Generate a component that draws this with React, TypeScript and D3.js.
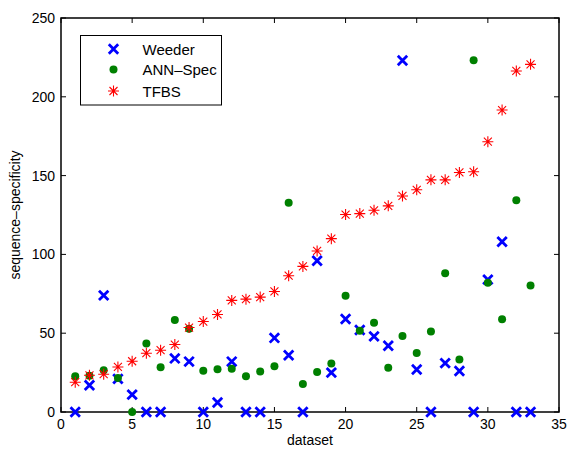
import React from "react";
import * as d3 from "d3";

const datasets = d3.range(1, 34);
const weeder = [0, 17, 74, 21, 11, 0, 0, 34, 32, 0, 6, 32, 0, 0, 47, 36, 0, 96, 25, 59, 52, 48, 42, 223, 27, 0, 31, 26, 0, 84, 108, 0, 0];
const annSpec = [22.7, 23, 26.5, 21.6, 0, 43.5, 28.4, 58.3, 52.8, 26.1, 27.1, 27.4, 22.7, 25.7, 29, 132.7, 17.8, 25.4, 30.7, 73.7, 51.5, 56.6, 28, 48.3, 37.5, 51, 88, 33.3, 223.2, 82, 58.9, 134.4, 80.3];
const tfbs = [18.9, 23.3, 24, 28.6, 32.2, 37.3, 39.2, 42.8, 53.6, 57.4, 61.9, 70.8, 71.6, 72.9, 76.5, 86.5, 92.4, 102.2, 110, 125.3, 125.9, 128, 130.8, 137.1, 141, 147.3, 147.3, 152, 152.4, 171.5, 191.6, 216.4, 220.6];
const xTicks = [0, 5, 10, 15, 20, 25, 30, 35];
const yTicks = [0, 50, 100, 150, 200, 250];
const seriesNames = ["Weeder", "ANN\u2013Spec", "TFBS"];

const L = 61, R = 559, T = 18, B = 412;
const FONT = "Liberation Sans, Arial, Helvetica, sans-serif";

function XMark({ x, y }: { x: number; y: number }) {
  const s = 4.7;
  return (
    <path d={`M${x - s},${y - s}L${x + s},${y + s}M${x - s},${y + s}L${x + s},${y - s}`} stroke="#0000ff" strokeWidth={2.8} fill="none" />
  );
}
function Dot({ x, y }: { x: number; y: number }) {
  return <circle cx={x} cy={y} r={4} fill="#008000" />;
}
function Star({ x, y }: { x: number; y: number }) {
  const s = 5.5, d = 4;
  return (
    <path d={`M${x - s},${y}L${x + s},${y}M${x},${y - s}L${x},${y + s}M${x - d},${y - d}L${x + d},${y + d}M${x - d},${y + d}L${x + d},${y - d}`} stroke="#ff0000" strokeWidth={1.1} fill="none" />
  );
}

export default function App() {
  const x = d3.scaleLinear().domain([0, 35]).range([L, R]);
  const y = d3.scaleLinear().domain([0, 250]).range([B, T]);
  return (
    <svg width={570} height={449} style={{ position: "absolute", left: 0, top: 0 }} fontFamily={FONT}>
      <rect x={0} y={0} width={570} height={449} fill="#fff" />
      {xTicks.map((t) => (
        <g key={"x" + t}>
          <line x1={x(t)} x2={x(t)} y1={B} y2={B - 5} stroke="#000" strokeWidth={1} />
          <line x1={x(t)} x2={x(t)} y1={T} y2={T + 5} stroke="#000" strokeWidth={1} />
          <text x={x(t)} y={B + 17} fontSize={14} textAnchor="middle">{t}</text>
        </g>
      ))}
      {yTicks.map((t) => (
        <g key={"y" + t}>
          <line x1={L} x2={L + 5} y1={y(t)} y2={y(t)} stroke="#000" strokeWidth={1} />
          <line x1={R} x2={R - 5} y1={y(t)} y2={y(t)} stroke="#000" strokeWidth={1} />
          <text x={L - 6} y={y(t) + 5} fontSize={14} textAnchor="end">{t}</text>
        </g>
      ))}
      <rect x={L} y={T} width={R - L} height={B - T} fill="none" stroke="#000" strokeWidth={1.5} />
      {weeder.map((v, i) => <XMark key={"w" + i} x={x(datasets[i])} y={y(v)} />)}
      {annSpec.map((v, i) => <Dot key={"a" + i} x={x(datasets[i])} y={y(v)} />)}
      {tfbs.map((v, i) => <Star key={"t" + i} x={x(datasets[i])} y={y(v)} />)}
      <text x={x(17.5)} y={445} fontSize={14} textAnchor="middle">dataset</text>
      <text transform={`translate(20,${(T + B) / 2}) rotate(-90)`} fontSize={14} textAnchor="middle">sequence{"\u2013"}specificity</text>
      <rect x={80.5} y={35.5} width={141} height={69.5} fill="#fff" stroke="#000" strokeWidth={1} />
      <XMark x={113.5} y={49} />
      <Dot x={113.5} y={69.5} />
      <Star x={113.5} y={91} />
      {seriesNames.map((n, i) => (
        <text key={n} x={142.5} y={[49, 69.5, 91][i] + 5.5} fontSize={15}>{n}</text>
      ))}
    </svg>
  );
}
